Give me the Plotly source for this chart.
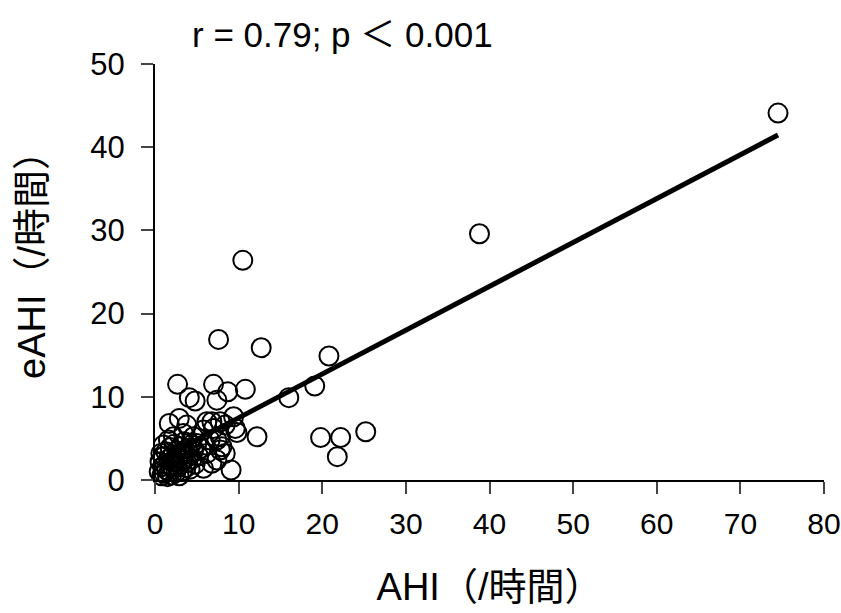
import plotly.graph_objects as go

# AHI (x) and eAHI (y) values
ahi = [74.5, 38.8, 10.5, 7.6, 12.7, 20.8, 19.1, 16.0, 2.7, 7.0, 8.7, 10.8, 4.1, 4.8, 7.4,
       12.2, 19.8, 22.2, 25.2, 21.8, 9.1, 9.4, 9.8, 1.7, 2.9, 3.8, 6.2, 6.8, 7.8, 8.4,
       7.4, 8.0, 8.4, 7.4, 6.2, 9.6, 7.8, 5.8, 4.6, 3.4, 2.2, 1.6, 6.6, 7.0, 7.8, 6.8,
       0.5, 0.6, 0.8, 0.9, 1.0, 1.1, 1.2, 1.3, 1.4, 1.5, 1.6, 1.7, 1.8, 1.9, 2.0, 2.1,
       2.2, 2.3, 2.4, 2.5, 2.6, 2.7, 2.8, 2.9, 3.0, 3.1, 3.2, 3.3, 3.4, 3.5, 3.6, 3.7,
       3.8, 3.9, 4.0, 4.2, 4.3, 4.4, 4.6, 4.8, 5.0, 5.2, 5.5, 5.8, 6.0, 1.0, 0.7]
eahi = [44.1, 29.6, 26.4, 16.9, 15.9, 14.9, 11.3, 9.9, 11.5, 11.5, 10.6, 10.9, 9.9, 9.5, 9.6,
        5.2, 5.1, 5.1, 5.8, 2.8, 1.2, 7.6, 5.7, 6.8, 7.4, 6.6, 7.0, 7.0, 7.0, 6.6,
        4.8, 4.0, 3.2, 2.4, 3.2, 6.2, 5.2, 6.0, 5.2, 5.6, 5.2, 4.8, 4.8, 6.2, 3.6, 2.0,
        1.0, 2.2, 0.5, 1.6, 2.8, 0.8, 1.9, 3.4, 1.2, 0.4, 2.5, 1.0, 3.9, 1.7, 0.6, 2.9,
        1.3, 4.3, 2.2, 0.9, 3.5, 1.6, 2.7, 0.5, 4.0, 1.9, 3.0, 1.1, 2.4, 4.6, 3.3, 1.5,
        2.1, 3.8, 2.8, 1.3, 4.2, 2.5, 3.5, 1.9, 4.4, 2.9, 3.8, 1.4, 4.2, 4.2, 3.2]

# regression line parameters
fit_intercept = 2.2
fit_slope = 0.527

x_ticks = [0, 10, 20, 30, 40, 50, 60, 70, 80]
y_ticks = [0, 10, 20, 30, 40, 50]
stat_text = "r = 0.79; p ＜ 0.001"
x_title = "AHI（/時間）"
y_title = "eAHI（/時間）"

FONT = "Liberation Sans, Arial, Noto Sans CJK JP, sans-serif"

line_x = [min(ahi), max(ahi)]
line_y = [fit_intercept + fit_slope * v for v in line_x]

fig = go.Figure()
fig.add_trace(go.Scatter(
    x=ahi, y=eahi, mode="markers", cliponaxis=False,
    marker=dict(symbol="circle-open", size=19, color="black", line=dict(width=2, color="black")),
    showlegend=False))
fig.add_trace(go.Scatter(
    x=line_x, y=line_y, mode="lines", cliponaxis=False,
    line=dict(color="black", width=5), showlegend=False))

# figure fills the whole window (page margin removed below)
W, H = 841, 613
L, R, T, B = 155, 17, 64, 133

fig.update_layout(
    width=W, height=H,
    margin=dict(l=L, r=R, t=T, b=B, autoexpand=False),
    paper_bgcolor="white", plot_bgcolor="white",
    font=dict(family=FONT, color="black", size=26),
    annotations=[
        dict(text=stat_text, xref="x domain", yref="y domain",
             x=(190 - 155) / 669, y=(480 - 35) / 416,
             xanchor="left", yanchor="middle",
             showarrow=False, font=dict(size=35, family=FONT)),
        dict(text=y_title, xref="x domain", yref="y domain", textangle=-90,
             x=(32 - 155) / 669, y=(480 - 256) / 416,
             xanchor="center", yanchor="middle",
             showarrow=False, font=dict(size=38, family=FONT)),
    ],
)
fig.update_xaxes(range=[0, 80], tickvals=x_ticks,
                 ticks="outside", ticklen=12, tickwidth=2,
                 showline=True, linecolor="black", linewidth=2, showgrid=False, zeroline=False,
                 tickfont=dict(size=30), ticklabelstandoff=4, automargin=False,
                 ticklabeloverflow="allow",
                 title=dict(text=x_title, font=dict(size=38), standoff=34))
fig.update_yaxes(range=[0, 50], tickvals=y_ticks, ticks="outside", ticklen=12, tickwidth=2,
                 showline=True, linecolor="black", linewidth=2, showgrid=False, zeroline=False,
                 tickfont=dict(size=31), ticklabelstandoff=10, automargin=False,
                 ticklabeloverflow="allow")

fig.write_html("out.html",
               config={"displayModeBar": False},
               post_script="document.body.style.margin='0';document.body.style.overflow='hidden';")
